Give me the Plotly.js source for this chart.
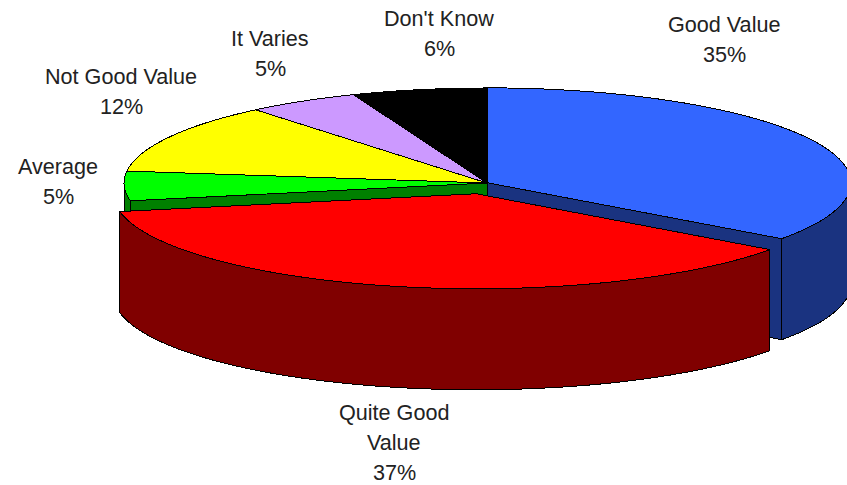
<!DOCTYPE html>
<html>
<head>
<meta charset="utf-8">
<script src="https://cdn.plot.ly/plotly-3.0.1.min.js"></script>
<style>
html,body{margin:0;padding:0;background:#fff}
#chart{width:847px;height:485px}
.scatterlayer path{shape-rendering:crispEdges}
</style>
</head>
<body>
<div id="chart"></div>
<script>
// Data, clockwise from 12 o'clock
const categories = ["Good Value", "Quite Good Value", "Average", "Not Good Value", "It Varies", "Don't Know"];
const values = [35, 37, 5, 12, 5, 6];
const labelLines = [["Good Value"], ["Quite Good", "Value"], ["Average"], ["Not Good Value"], ["It Varies"], ["Don't Know"]];
const topColors = ["#3366FF", "#FF0000", "#00FF00", "#FFFF00", "#CC99FF", "#000000"];
const sideColors = ["#1A3380", "#800000", "#008000", "#808000", "#664D80", "#000000"];
const explodeBy = [0.003, 0.116, 0, 0, 0, 0];
const labelX = [724, 394, 58, 121, 270, 439];
const labelY = [24, 412, 166, 76, 38, 18];

// Projection of the tilted pie onto the page (pixel-valued axes)
const cx = 487, cy = 183, rx = 363, ry = 95, depth = 101, lineGap = 30, explodedShiftX = -1.5;

const total = values.reduce((a, b) => a + b, 0);
let run = 0;
const slices = values.map((v, i) => {
  const a0 = run / total * 360; run += v; const a1 = run / total * 360;
  const mid = (a0 + a1) / 2 * Math.PI / 180;
  const shift = explodeBy[i] > 0.01 ? explodedShiftX : 0;
  return {i, a0, a1, ox: cx + shift + Math.sin(mid) * explodeBy[i] * rx, oy: cy - Math.cos(mid) * explodeBy[i] * ry};
});
function pt(s, deg, dz) {
  const t = deg * Math.PI / 180;
  return [s.ox + Math.sin(t) * rx, s.oy - Math.cos(t) * ry + (dz || 0)];
}
function arc(s, a, b, dz) {
  const n = Math.max(2, Math.ceil(Math.abs(b - a) / 1.5)), out = [];
  for (let k = 0; k <= n; k++) out.push(pt(s, a + (b - a) * k / n, dz));
  return out;
}
function poly(points, color) {
  const closed = points.concat([points[0]]);
  return {type: "scatter", mode: "lines", x: closed.map(p => p[0]), y: closed.map(p => p[1]),
    fill: "toself", fillcolor: color, line: {color: "#000", width: 1, simplify: false},
    hoverinfo: "skip", showlegend: false};
}
function topFace(s) { return poly([[s.ox, s.oy]].concat(arc(s, s.a0, s.a1)), topColors[s.i]); }
function outerWall(s) {
  const a = Math.max(s.a0, 90), b = Math.min(s.a1, 270);
  if (b <= a) return [];
  return [poly(arc(s, a, b).concat(arc(s, b, a, depth)), sideColors[s.i])];
}
function radialWall(s, deg) {
  const e = pt(s, deg);
  return [poly([[s.ox, s.oy], e, [e[0], e[1] + depth], [s.ox, s.oy + depth]], sideColors[s.i])];
}
const [good, quite, avg, notGood, varies, dontKnow] = slices;
const traces = [
  topFace(dontKnow), topFace(varies), topFace(notGood),
  ...radialWall(avg, avg.a1), ...outerWall(avg), topFace(avg),
  ...radialWall(good, good.a1), ...outerWall(good), topFace(good),
  ...outerWall(quite), topFace(quite)
];

const annotations = [];
categories.forEach((c, i) => {
  labelLines[i].concat([values[i] + "%"]).forEach((line, k) => {
    annotations.push({text: line, x: labelX[i], y: labelY[i] + k * lineGap, xref: "x", yref: "y",
      showarrow: false, xanchor: "center", yanchor: "middle",
      font: {family: "Liberation Sans, Arial, sans-serif", size: 21.6, color: "#222"}});
  });
});

const hidden = {visible: false, showgrid: false, zeroline: false, fixedrange: true};
Plotly.newPlot("chart", traces, {
  width: 847, height: 485, margin: {l: 0, r: 0, t: 0, b: 0},
  paper_bgcolor: "#fff", plot_bgcolor: "#fff", showlegend: false,
  xaxis: Object.assign({range: [0, 847]}, hidden),
  yaxis: Object.assign({range: [485, 0]}, hidden),
  annotations
}, {displayModeBar: false, staticPlot: true});
</script>
</body>
</html>
